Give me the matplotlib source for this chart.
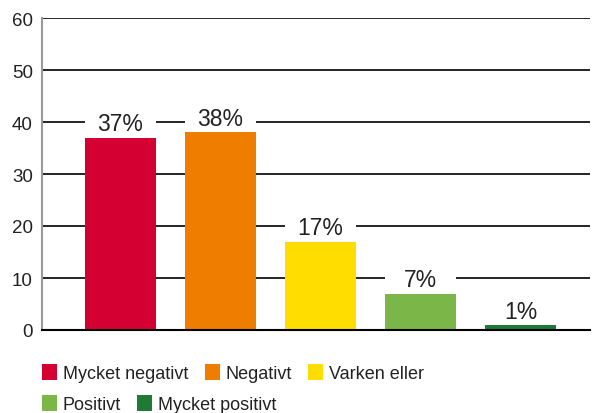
import matplotlib
matplotlib.use("Agg")
import matplotlib.pyplot as plt
import numpy as np

categories = ["Mycket negativt", "Negativt", "Varken eller", "Positivt", "Mycket positivt"]
values = [37, 38, 17, 7, 1]
labels = ["37%", "38%", "17%", "7%", "1%"]
colors = ["#D50032", "#EF7D00", "#FFDD00", "#7AB648", "#1E7A34"]
yticks = [0, 10, 20, 30, 40, 50, 60]

plt.rcParams['font.family'] = ['Liberation Sans', 'DejaVu Sans']

fig = plt.figure(figsize=(5.92, 4.14), dpi=100)
ax = fig.add_axes([42/592, 83/414, 548/592, 312/414])

x = np.arange(len(categories))
bw = 0.71
bars = ax.bar(x, values, width=bw, color=colors, zorder=3)
# white boxes behind labels that interrupt gridlines
ax.bar(x, [4.5]*len(values), bottom=values, width=bw, color='white', zorder=2)
for xi, v, lab in zip(x, values, labels):
    ax.text(xi, v + 1.4, lab, ha='center', va='baseline', fontsize=16.5, color='#222222', zorder=4)

ax.set_xlim(-0.785, 4.695)
ax.set_ylim(0, 60)
ax.set_yticks(yticks)
ax.set_xticks([])
ax.yaxis.grid(True, color='black', linewidth=1.2)
ax.set_axisbelow(True)
ax.tick_params(axis='y', length=0, pad=6.5, labelsize=13.5, labelcolor='#222222')
for s in ['top', 'right']:
    ax.spines[s].set_visible(False)
ax.spines['left'].set_color('#999999')
ax.spines['left'].set_linewidth(1.5)
ax.spines['bottom'].set_color('black')
ax.spines['bottom'].set_linewidth(1.5)
ax.spines['bottom'].set_zorder(5)

lkw = dict(frameon=False, handlelength=0.83, handleheight=1.0, handletextpad=0.33,
           columnspacing=0.9, borderpad=0, borderaxespad=0,
           prop={'size': 13})
leg1 = fig.legend(bars[:3], categories[:3], ncol=3, loc='center left',
                  bbox_to_anchor=(42/592, 1 - 374/414), **lkw)
leg2 = fig.legend(bars[3:], categories[3:], ncol=2, loc='center left',
                  bbox_to_anchor=(42/592, 1 - 405/414), **lkw)
for leg in (leg1, leg2):
    for t in leg.get_texts():
        t.set_color('#222222')

fig.savefig("out.png", dpi=100)
